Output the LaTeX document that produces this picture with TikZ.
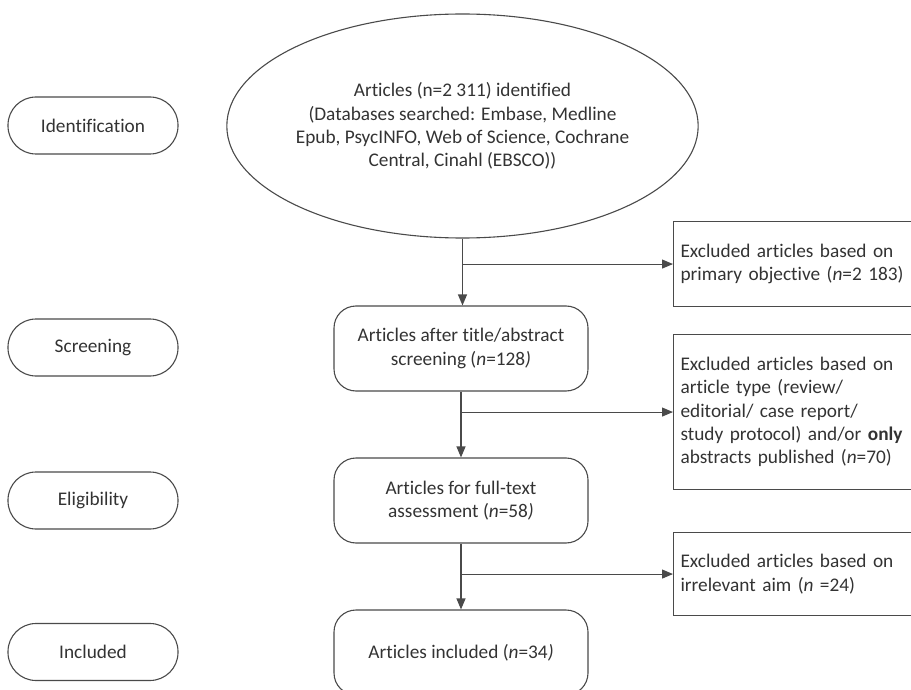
\documentclass[tikz,border=0pt]{standalone}
\usepackage{fontspec}
\setmainfont[Ligatures=NoCommon]{Carlito}
\usetikzlibrary{shapes.geometric,arrows.meta}
\definecolor{ink}{HTML}{333333}
\definecolor{edge}{HTML}{4A4A4A}
\begin{document}
\begin{tikzpicture}[x=1pt,y=-1pt,
  every node/.style={font=\fontsize{19.3}{23.4}\selectfont, text=ink},
  phase/.style={draw=edge, line width=1.1pt, rounded corners=28pt,
    minimum width=170pt, minimum height=57pt, inner sep=0pt},
  stage/.style={draw=edge, line width=1.1pt, rounded corners=22pt,
    minimum width=254pt, minimum height=85pt, align=center, inner sep=0pt},
  excl/.style={draw=edge, line width=1.1pt, anchor=north west,
    minimum width=250pt, inner xsep=7pt, text width=236pt, align=left},
  flow/.style={draw=edge, line width=1.1pt, -{Triangle[length=11pt,width=9pt]}}]
\useasboundingbox (0,0) rectangle (911,690);
\clip (0,0) rectangle (911,690);

% phase labels on the left
\node[phase] (pid)  at (93,125.5) {Identification};
\node[phase] (pscr) at (93,347.5) {Screening};
\node[phase] (pel)  at (93,500.5) {Eligibility};
\node[phase] (pinc) at (93,652)   {Included};

% main flow
\node[draw=edge, line width=1.1pt, ellipse, minimum width=421pt, minimum height=224pt,
  inner sep=0pt, align=center] (ident) at (462.5,126)
  {Articles (n=2 311) identified\\(Databases searched: Embase, Medline\\
   Epub, PsycINFO, Web of Science, Cochrane\\Central, Cinahl (EBSCO))};
\node[stage] (scr) at (461,348.5)
  {Articles after title/abstract\\screening (\textit{n}=128\textit{)}};
\node[stage] (elig) at (461,500.5)
  {Articles for full-text\\assessment (\textit{n}=58\textit{)}};
\node[stage] (inc) at (461,652.5)
  {Articles included (\textit{n}=34\textit{)}};

% exclusion boxes on the right
\node[excl, minimum height=85pt] (ex1) at (673,221)
  {Excluded articles based on\\primary objective (\textit{n}=2 183)};
\node[excl, minimum height=155pt] (ex2) at (673,334)
  {Excluded articles based on\\article type (review/\\editorial/ case report/\\
   study protocol) and/or \textbf{only}\\abstracts published (\textit{n}=70)};
\node[excl, minimum height=83pt] (ex3) at (673,532)
  {Excluded articles based on\\irrelevant aim (\textit{n} =24)};

% branch points
\coordinate (b1) at (ident.south |- ex1.west);
\coordinate (b2) at (scr.south |- ex2.west);
\coordinate (b3) at (elig.south |- ex3.west);

\draw[flow] (ident.south) -- (ident.south |- scr.north);
\draw[flow] (b1) -- (ex1.west);
\draw[flow] (scr.south) -- (scr.south |- elig.north);
\draw[flow] (b2) -- (ex2.west);
\draw[flow] (elig.south) -- (elig.south |- inc.north);
\draw[flow] (b3) -- (ex3.west);
\end{tikzpicture}
\end{document}
